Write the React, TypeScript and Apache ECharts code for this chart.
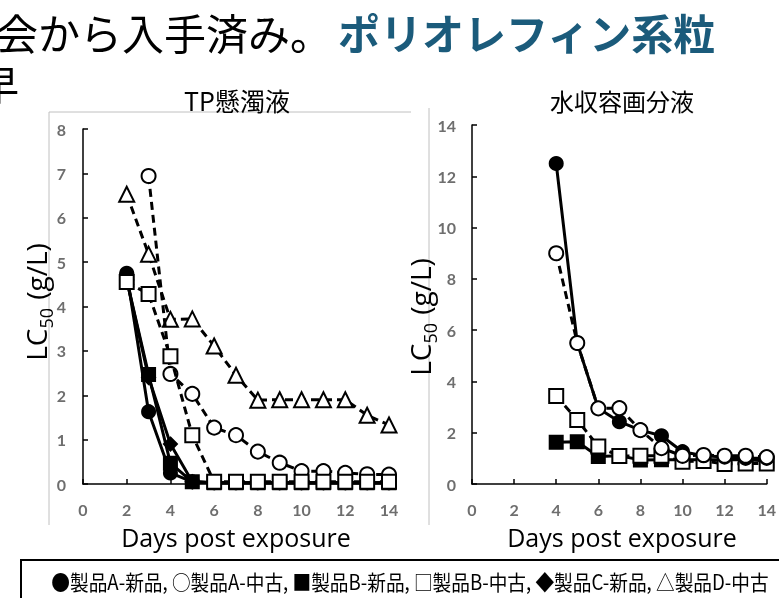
import React, { useEffect, useRef } from "react";
import * as echarts from "echarts";

// ---- data ----
const leftTitle = "TP懸濁液";
const rightTitle = "水収容画分液";
const xTitle = "Days post exposure";
const legendText = "●製品A-新品, ○製品A-中古, ■製品B-新品, □製品B-中古, ◆製品C-新品, △製品D-中古";

// left panel (TP suspension)
const L_A_new = [[2, 4.75], [3, 1.63], [4, 0.25], [5, 0.05], [6, 0.03], [7, 0.03], [8, 0.03], [9, 0.03], [10, 0.03], [11, 0.03], [12, 0.03], [13, 0.03], [14, 0.03]];
const L_A_used = [[3, 6.94], [4, 2.48], [5, 2.03], [6, 1.27], [7, 1.1], [8, 0.73], [9, 0.48], [10, 0.29], [11, 0.29], [12, 0.25], [13, 0.22], [14, 0.21]];
const L_B_new = [[2, 4.6], [3, 2.47], [4, 0.47], [5, 0.05], [6, 0.03], [7, 0.03], [8, 0.03], [9, 0.03], [10, 0.03], [11, 0.03], [12, 0.03], [13, 0.03], [14, 0.03]];
const L_B_used = [[2, 4.55], [3, 4.28], [4, 2.88], [5, 1.1], [6, 0.05], [7, 0.05], [8, 0.05], [9, 0.05], [10, 0.05], [11, 0.05], [12, 0.05], [13, 0.05], [14, 0.05]];
const L_C_new = [[2, 4.6], [3, 2.4], [4, 0.9], [5, 0.05], [6, 0.03], [7, 0.03], [8, 0.03], [9, 0.03], [10, 0.03], [11, 0.03], [12, 0.03], [13, 0.03], [14, 0.03]];
const L_D_used = [[2, 6.53], [3, 5.18], [4, 3.71], [5, 3.72], [6, 3.11], [7, 2.45], [8, 1.89], [9, 1.9], [10, 1.9], [11, 1.9], [12, 1.9], [13, 1.55], [14, 1.33]];

// right panel (water accommodated fraction)
const R_A_new = [[4, 12.5], [5, 5.5], [6, 2.95], [7, 2.43], [8, 2.1], [9, 1.88], [10, 1.26], [11, 1.1], [12, 1.05], [13, 1.0], [14, 1.0]];
const R_A_used = [[4, 9.0], [5, 5.5], [6, 2.95], [7, 2.96], [8, 2.1], [9, 1.4], [10, 1.1], [11, 1.13], [12, 1.1], [13, 1.1], [14, 1.05]];
const R_B_new = [[4, 1.63], [5, 1.65], [6, 1.07], [7, 1.1], [8, 0.94], [9, 0.95], [10, 0.95], [11, 0.95], [12, 0.95], [13, 0.95], [14, 0.9]];
const R_B_used = [[4, 3.43], [5, 2.5], [6, 1.46], [7, 1.09], [8, 1.1], [9, 1.1], [10, 0.87], [11, 0.9], [12, 0.78], [13, 0.8], [14, 0.8]];

const leftYTicks = { min: 0, max: 8, interval: 1 };
const rightYTicks = { min: 0, max: 14, interval: 2 };
const xTicks = { min: 0, max: 14, interval: 2 };

function mk(name: string, data: number[][], idx: number, symbol: string, filled: boolean, dashed: boolean, size: number, z: number) {
  return {
    name,
    type: "line",
    xAxisIndex: idx,
    yAxisIndex: idx,
    data,
    symbol,
    symbolSize: size,
    showSymbol: true,
    z,
    lineStyle: { color: "#000", width: 3, type: dashed ? [8, 5] : "solid" },
    itemStyle: { color: filled ? "#000" : "#fff", borderColor: "#000", borderWidth: 2 },
    emphasis: { disabled: true },
  };
}

function axisCommon() {
  return {
    type: "value",
    axisLine: { show: true, lineStyle: { color: "#000", width: 1.5 } },
    axisTick: { show: true, inside: true, length: 5, lineStyle: { color: "#000", width: 1.5 } },
    splitLine: { show: false },
    axisLabel: { color: "#6e6e6e", fontWeight: "bold", fontSize: 16, fontFamily: "Lato" },
  };
}

export default function App() {
  const ref = useRef<HTMLDivElement>(null);
  useEffect(() => {
    const chart = echarts.init(ref.current!, null, { renderer: "svg" });
    const ax = axisCommon();
    const lcRich = {
      a: { fontSize: 28, fontFamily: "Open Sans", fill: "#000", lineHeight: 38 },
      s: { fontSize: 18, fontFamily: "Open Sans", fill: "#000", lineHeight: 38, verticalAlign: "bottom", padding: [0, 1, 0, 0] },
    };
    chart.setOption({
      animation: false,
      grid: [
        { left: 83, top: 129, width: 306, height: 355 },
        { left: 472, top: 125, width: 301, height: 359 },
      ],
      xAxis: [
        { ...ax, gridIndex: 0, ...xTicks, axisLabel: { ...ax.axisLabel, margin: 17 } },
        { ...ax, gridIndex: 1, ...xTicks, axisLabel: { ...ax.axisLabel, margin: 17 } },
      ],
      yAxis: [
        { ...ax, gridIndex: 0, ...leftYTicks, axisLabel: { ...ax.axisLabel, margin: 17 } },
        { ...ax, gridIndex: 1, ...rightYTicks, axisLabel: { ...ax.axisLabel, margin: 16 } },
      ],
      series: [
        mk("製品D-中古", L_D_used, 0, "triangle", false, true, 15, 2),
        mk("製品A-中古", L_A_used, 0, "circle", false, true, 14, 3),
        mk("製品C-新品", L_C_new, 0, "diamond", true, false, 13, 4),
        mk("製品B-新品", L_B_new, 0, "rect", true, false, 13, 5),
        mk("製品A-新品", L_A_new, 0, "circle", true, false, 13, 6),
        mk("製品B-中古", L_B_used, 0, "rect", false, true, 14, 7),
        mk("製品B-新品", R_B_new, 1, "rect", true, false, 13, 2),
        mk("製品B-中古", R_B_used, 1, "rect", false, true, 14, 3),
        mk("製品A-新品", R_A_new, 1, "circle", true, false, 13, 4),
        mk("製品A-中古", R_A_used, 1, "circle", false, true, 14, 5),
      ],
      graphic: [
        { type: "line", shape: { x1: 49, y1: 112, x2: 411, y2: 112 }, style: { stroke: "#c0c0c0", lineWidth: 1 } },
        { type: "line", shape: { x1: 49, y1: 112, x2: 49, y2: 525 }, style: { stroke: "#c0c0c0", lineWidth: 1 } },
        { type: "line", shape: { x1: 429, y1: 108, x2: 429, y2: 525 }, style: { stroke: "#c0c0c0", lineWidth: 1 } },
        { type: "text", x: -4, y: 31, style: { text: "会から入手済み。", fontSize: 42, fontFamily: "Noto Sans CJK JP", fill: "#000", verticalAlign: "middle" } },
        { type: "text", x: 338, y: 31, style: { text: "ポリオレフィン系粒", fontSize: 42, fontWeight: "bold", fontFamily: "Noto Sans CJK JP", fill: "#1b5b7b", verticalAlign: "middle" } },
        { type: "text", x: -21, y: 83, style: { text: "早", fontSize: 40, fontFamily: "Noto Sans CJK JP", fill: "#000", verticalAlign: "middle" } },
        { type: "text", x: 237, y: 100, style: { text: leftTitle, fontSize: 25, fontFamily: "Noto Sans CJK JP", fill: "#000", align: "center", verticalAlign: "middle" } },
        { type: "text", x: 622, y: 100, style: { text: rightTitle, fontSize: 24, fontFamily: "Noto Sans CJK JP", fill: "#000", align: "center", verticalAlign: "middle" } },
        { type: "text", x: 236, y: 537, style: { text: xTitle, fontSize: 25, fontFamily: "Open Sans", fill: "#000", align: "center", verticalAlign: "middle" } },
        { type: "text", x: 622, y: 537, style: { text: xTitle, fontSize: 25, fontFamily: "Open Sans", fill: "#000", align: "center", verticalAlign: "middle" } },
        { type: "text", x: 36, y: 302, rotation: Math.PI / 2, style: { text: "{a|LC}{s|50}{a| (g/L)}", rich: lcRich, align: "center", verticalAlign: "middle" } },
        { type: "text", x: 420, y: 317, rotation: Math.PI / 2, style: { text: "{a|LC}{s|50}{a| (g/L)}", rich: lcRich, align: "center", verticalAlign: "middle" } },
        { type: "rect", shape: { x: 21, y: 560, width: 800, height: 60 }, style: { fill: "none", stroke: "#000", lineWidth: 2 } },
        { type: "text", x: 410, y: 581, scaleX: 0.89, style: { text: legendText, fontSize: 21, fontFamily: "Noto Sans CJK JP", fill: "#000", align: "center", verticalAlign: "middle" } },
      ],
    });
    return () => chart.dispose();
  }, []);
  return <div ref={ref} style={{ position: "fixed", left: 0, top: 0, width: 779, height: 598 }} />;
}
